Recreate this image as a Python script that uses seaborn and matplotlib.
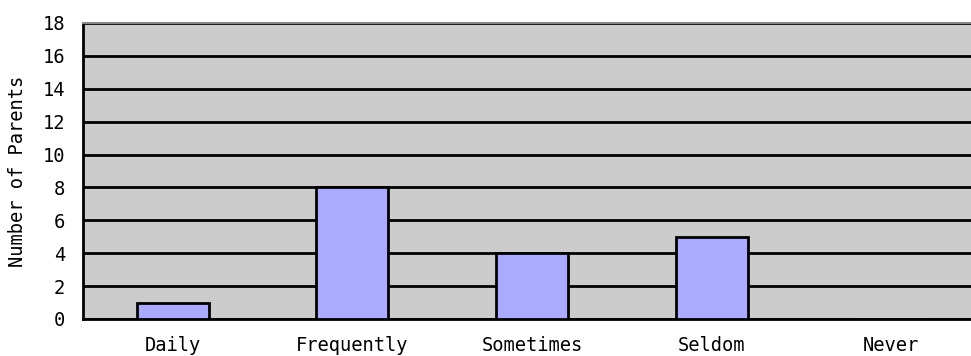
import matplotlib
matplotlib.use("Agg")
import matplotlib.pyplot as plt
import seaborn as sns
import pandas as pd
import numpy as np

categories = ["Daily", "Frequently", "Sometimes", "Seldom", "Never"]
parents = [1, 8, 4, 5, 0]
y_ticks = [0, 2, 4, 6, 8, 10, 12, 14, 16, 18]

df = pd.DataFrame({"Frequency": categories, "Parents": parents})

sns.set_theme(style="white")
plt.rcParams["font.family"] = ["DejaVu Sans Mono"]
plt.rcParams["text.color"] = "black"
plt.rcParams["xtick.color"] = "black"
plt.rcParams["ytick.color"] = "black"
plt.rcParams["axes.labelcolor"] = "black"

fig = plt.figure(figsize=(9.71, 3.56), dpi=100)
ax = fig.add_axes([83 / 971, 37 / 356, 898 / 971, 296 / 356])
ax.set_facecolor("#CCCCCC")

sns.barplot(data=df, x="Frequency", y="Parents", order=categories, width=0.4,
            color="#AAAAFF", saturation=1, edgecolor="black", linewidth=2,
            ax=ax, zorder=3)

ax.set_ylim(0, 18)
ax.set_xlim(-0.5, 4.5)
ax.set_yticks(y_ticks)
ax.yaxis.grid(True, color="black", linewidth=2)
ax.set_axisbelow(True)

# category labels centred, ticks on the boundaries between categories
ax.set_xticks(np.arange(len(categories)))
ax.set_xticklabels(categories, fontsize=13.5)
ax.tick_params(axis="x", length=0, pad=12)
ax.set_xticks(np.arange(len(categories)) - 0.5, minor=True)
ax.tick_params(axis="x", which="minor", length=6, width=2, color="black", direction="out")
ax.tick_params(axis="y", length=5, width=2, color="black", direction="out", labelsize=13.5, pad=8)

ax.set_xlabel("")
ax.set_ylabel("Number of Parents", fontsize=13.5)
ax.yaxis.set_label_coords(-0.062, 0.5)

for s in ["left", "bottom"]:
    ax.spines[s].set_color("black")
    ax.spines[s].set_linewidth(2)
ax.spines["top"].set_color("#888888")
ax.spines["top"].set_linewidth(1.5)
ax.spines["right"].set_visible(False)

fig.savefig("out.png", dpi=100)
